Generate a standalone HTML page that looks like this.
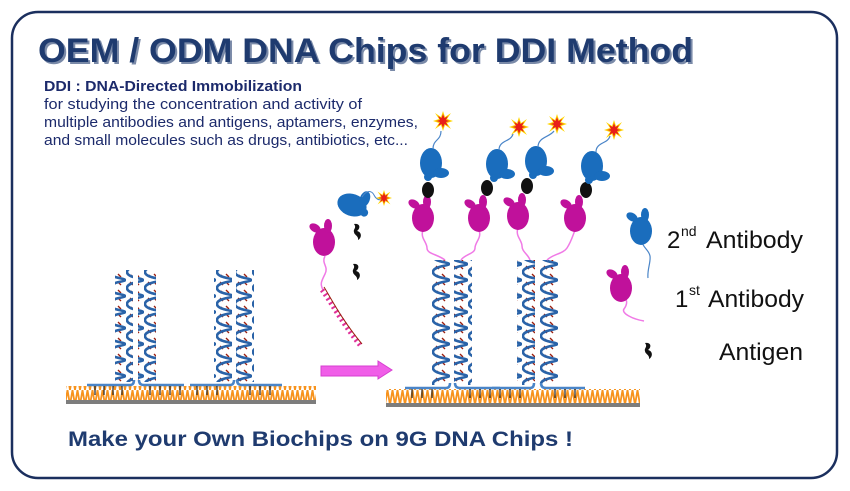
<!DOCTYPE html>
<html><head><meta charset="utf-8"><style>
html,body{margin:0;padding:0;background:#fff;width:850px;height:491px;overflow:hidden}
svg{display:block}
</style></head><body>
<svg width="850" height="491" viewBox="0 0 850 491" xmlns="http://www.w3.org/2000/svg">
<defs>
<pattern id="hx" width="18" height="16" patternUnits="userSpaceOnUse">
<path d="M5,3 l3,3 M10,2 l3,3 M4,10 l3,3 M10,10 l3,3" stroke="#9b2010" stroke-width="1.4"/>
<path d="M1,0 C1,6 17,6 17,8 C17,10 1,10 1,16" fill="none" stroke="#2a63a8" stroke-width="2.6"/>
</pattern>
<pattern id="zz" width="5" height="15" patternUnits="userSpaceOnUse">
<path d="M0,15 L2.5,0 L5,15" fill="none" stroke="#f7931e" stroke-width="1.8"/>
</pattern>
<g id="blue"><ellipse cx="0" cy="0" rx="11" ry="15" fill="#1a6dbd"/><ellipse cx="10" cy="10" rx="8" ry="5" fill="#1a6dbd"/><ellipse cx="-3" cy="14" rx="4" ry="4" fill="#1a6dbd"/></g>
<g id="mag"><ellipse cx="0" cy="5" rx="11" ry="14" fill="#c0119b"/><ellipse cx="-9" cy="-9" rx="6" ry="4" fill="#c0119b" transform="rotate(30 -9 -9)"/><ellipse cx="4" cy="-11" rx="4" ry="7" fill="#c0119b"/></g>
<g id="bleg"><ellipse cx="0" cy="5" rx="11" ry="14" fill="#1a6dbd"/><ellipse cx="-9" cy="-9" rx="6" ry="4" fill="#1a6dbd" transform="rotate(30 -9 -9)"/><ellipse cx="4" cy="-11" rx="4" ry="7" fill="#1a6dbd"/></g>
<g id="star"><polygon points="0,-10 2,-4 8,-8 4,-2 10,0 4,2 8,8 2,4 0,10 -2,4 -8,8 -4,2 -10,0 -4,-2 -8,-8 -2,-4" fill="#ffd400"/><polygon points="0,-7 1.5,-3 5,-5 3,-1 7,0 3,1 5,5 1.5,3 0,7 -1.5,3 -5,5 -3,1 -7,0 -3,-1 -5,-5 -1.5,-3" fill="#e8201a"/></g>
<g id="ag"><path d="M-3,-8 C3,-9 4,-4 0,-1 C5,0 5,6 1,8 C2,4 -3,3 -3,0 C-4,-3 0,-4 -3,-8Z" fill="#111"/></g>
</defs>
<rect x="12" y="12" width="825" height="466" rx="26" fill="#fff" stroke="#1b2f5e" stroke-width="2.5"/>
<text x="40" y="64" font-family="Liberation Sans, sans-serif" font-weight="bold" font-size="34" fill="#7a8aa8" textLength="655" lengthAdjust="spacingAndGlyphs">OEM / ODM DNA Chips for DDI Method</text>
<text x="38" y="62" font-family="Liberation Sans, sans-serif" font-weight="bold" font-size="34" fill="#1f3b6f" textLength="655" lengthAdjust="spacingAndGlyphs">OEM / ODM DNA Chips for DDI Method</text>
<g font-family="Liberation Sans, sans-serif" font-size="14.5" fill="#1c2a6b">
<text x="44" y="91" font-weight="bold" textLength="258" lengthAdjust="spacingAndGlyphs">DDI : DNA-Directed Immobilization</text>
<text x="44" y="109" textLength="318" lengthAdjust="spacingAndGlyphs">for studying the concentration and activity of</text>
<text x="44" y="127" textLength="374" lengthAdjust="spacingAndGlyphs">multiple antibodies and antigens, aptamers, enzymes,</text>
<text x="44" y="145" textLength="364" lengthAdjust="spacingAndGlyphs">and small molecules such as drugs, antibiotics, etc...</text>
</g>
<!-- left chip -->
<rect x="66" y="386" width="250" height="15" fill="url(#zz)"/>
<rect x="66" y="400" width="250" height="4" fill="#7d7d7d"/>
<g fill="url(#hx)">
<rect x="115" y="270" width="18" height="112"/><rect x="138" y="270" width="18" height="112"/>
<rect x="214" y="270" width="18" height="112"/><rect x="236" y="270" width="18" height="112"/>
</g>
<g stroke="#4a85c8" stroke-width="2.5" fill="none">
<path d="M87,385 H130 q4,0 4,-5"/><path d="M139,380 q0,5 5,5 H184"/>
<path d="M190,385 H230 q4,0 4,-5"/><path d="M237,380 q0,5 5,5 H282"/>
</g>
<g stroke="#222" stroke-width="1.2"><path d="M95,386v9 M104,386v9 M113,386v9 M122,386v9 M150,386v9 M160,386v9 M170,386v9 M180,386v9 M197,386v9 M207,386v9 M217,386v9 M250,386v9 M260,386v9 M270,386v9"/></g>
<!-- arrow -->
<path d="M321,366 H378 V361 L392,370 L378,379 V376 H321Z" fill="#f05ee8" stroke="#d63fd0"/>
<!-- middle floating -->
<use href="#blue" transform="translate(352,205) rotate(-70)"/>
<path d="M362,197 c5,-8 10,-6 12,-2 s5,6 9,4" stroke="#4a85c8" fill="none"/>
<use href="#star" transform="translate(384,198) scale(0.8)"/>
<use href="#mag" x="324" y="237"/>
<use href="#ag" x="357" y="232"/><use href="#ag" x="356" y="272"/>
<path d="M325,256 c-4,8 4,10 0,18 s-5,10 -2,16" stroke="#f07ae6" fill="none" stroke-width="1.5"/>
<path d="M322,290 C330,300 340,320 360,345" stroke="#e0309a" fill="none" stroke-width="5" stroke-dasharray="2 3"/>
<path d="M324,287 C332,300 342,320 362,344" stroke="#9b2010" fill="none" stroke-width="1"/>
<!-- right chip -->
<rect x="386" y="389" width="254" height="15" fill="url(#zz)"/>
<rect x="386" y="403" width="254" height="4" fill="#7d7d7d"/>
<g fill="url(#hx)">
<rect x="432" y="260" width="18" height="125"/><rect x="454" y="260" width="18" height="125"/>
<rect x="517" y="260" width="18" height="125"/><rect x="540" y="260" width="18" height="125"/>
</g>
<g stroke="#4a85c8" stroke-width="2.5" fill="none">
<path d="M405,388 H446 q4,0 4,-5"/><path d="M455,383 q0,5 5,5 H500"/>
<path d="M492,388 H530 q4,0 4,-5"/><path d="M541,383 q0,5 5,5 H585"/>
</g>
<g stroke="#222" stroke-width="1.2"><path d="M412,389v9 M422,389v9 M432,389v9 M470,389v9 M480,389v9 M490,389v9 M500,389v9 M510,389v9 M520,389v9 M555,389v9 M565,389v9 M575,389v9"/></g>
<g stroke="#f07ae6" stroke-width="1.5" fill="none">
<path d="M423,230 c-3,8 4,12 4,18 s10,6 18,12"/>
<path d="M479,230 c3,8 -4,12 -4,18 s-10,6 -14,12"/>
<path d="M518,228 c-3,8 4,12 4,18 s6,8 8,14"/>
<path d="M575,230 c-3,8 -4,12 -8,18 s-14,6 -20,12"/>
</g>
<use href="#mag" x="423" y="213"/><use href="#mag" x="479" y="213"/><use href="#mag" x="518" y="211"/><use href="#mag" x="575" y="213"/>
<g fill="#111"><ellipse cx="428" cy="190" rx="6" ry="8"/><ellipse cx="487" cy="188" rx="6" ry="8"/><ellipse cx="527" cy="186" rx="6" ry="8"/><ellipse cx="586" cy="190" rx="6" ry="8"/></g>
<use href="#blue" x="431" y="163"/><use href="#blue" x="497" y="164"/><use href="#blue" x="536" y="161"/><use href="#blue" x="592" y="166"/>
<g stroke="#4a85c8" fill="none" stroke-width="1.2">
<path d="M433,149 c0,-10 8,-8 8,-18"/><path d="M499,150 c0,-10 12,-8 14,-16"/>
<path d="M538,147 c0,-10 12,-10 16,-16"/><path d="M596,152 c0,-10 12,-8 14,-16"/>
</g>
<use href="#star" x="443" y="121"/><use href="#star" x="519" y="127"/><use href="#star" x="557" y="124"/><use href="#star" x="614" y="130"/>
<!-- legend -->
<path d="M641,240 c2,8 8,10 9,16 s-3,14 -2,22" stroke="#4a85c8" fill="none" stroke-width="1.2"/>
<use href="#bleg" x="641" y="226"/>
<path d="M621,293 c8,6 6,12 3,16 s8,10 20,12" stroke="#f07ae6" fill="none" stroke-width="1.5"/>
<use href="#mag" x="621" y="283"/>
<use href="#ag" x="648" y="351"/>
<g font-family="Liberation Sans, sans-serif" font-size="24" fill="#111">
<text x="667" y="248">2</text><text x="681" y="236" font-size="14">nd</text>
<text x="706" y="248" textLength="97" lengthAdjust="spacingAndGlyphs">Antibody</text>
<text x="675" y="307">1</text><text x="689" y="295" font-size="14">st</text>
<text x="708" y="307" textLength="96" lengthAdjust="spacingAndGlyphs">Antibody</text>
<text x="719" y="360" textLength="84" lengthAdjust="spacingAndGlyphs">Antigen</text>
</g>
<text x="68" y="446" font-family="Liberation Sans, sans-serif" font-weight="bold" font-size="21" fill="#1f3b6f" textLength="505" lengthAdjust="spacingAndGlyphs">Make your Own Biochips on 9G DNA Chips !</text>
</svg>
</body></html>
